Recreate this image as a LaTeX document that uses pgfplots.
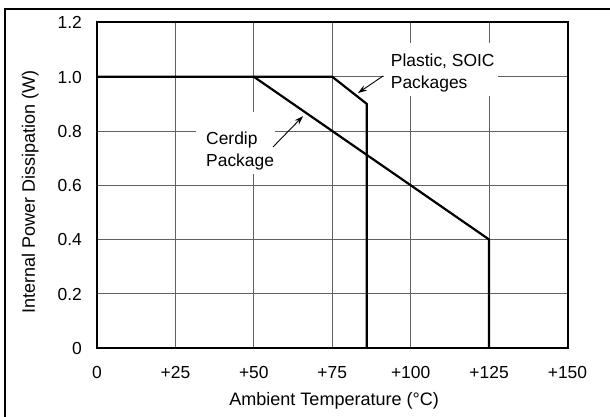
\documentclass[border=0pt]{standalone}
\usepackage{fontspec}
\setmainfont{Liberation Sans}
\usepackage{pgfplots}
\pgfplotsset{compat=1.18}
\usetikzlibrary{arrows.meta}
\begin{document}
\fontsize{17.5}{21}\selectfont
\begin{tikzpicture}
\path[use as bounding box] (-97bp,-69bp) rectangle (513bp,348bp);
\begin{axis}[
  at={(0,0)}, anchor=south west,
  scale only axis, width=470.5bp, height=325.5bp,
  xmin=0, xmax=150, ymin=0, ymax=1.2,
  xtick={0,25,50,75,100,125,150},
  xticklabels={0,+25,+50,+75,+100,+125,+150},
  ytick={0,0.2,0.4,0.6,0.8,1.0,1.2},
  yticklabels={0,0.2,0.4,0.6,0.8,1.0,1.2},
  major tick length=0pt,
  tick style={draw=none},
  grid=major,
  major grid style={draw=black!62, line width=0.9bp},
  axis line style={line width=2bp, black},
  xticklabel style={anchor=base, inner sep=0pt, yshift=-30.5bp},
  yticklabel style={anchor=base east, inner sep=0pt, xshift=-15bp, yshift=-6.3bp},
  xlabel={Ambient Temperature (°C)},
  xlabel style={at={(axis description cs:0.504,0)}, anchor=base, inner sep=0pt, yshift=-57bp, font=\fontsize{18.1}{21}\selectfont},
  ylabel={Internal Power Dissipation (W)},
  ylabel style={at={(axis description cs:-0.1318,0.479)}, anchor=base, inner sep=0pt, font=\fontsize{18.1}{21}\selectfont},
  clip=false,
]
% white boxes behind the annotation texts
\fill[white] (axis cs:31.56,0.6415) rectangle (axis cs:56.75,0.870);
\fill[white] (axis cs:91.5,0.929) rectangle (axis cs:127.84,1.1244);
% Cerdip package
\addplot[black, line width=2.2bp, line join=miter] coordinates {
  (0,1.0) (50,1.0) (125,0.4) (125,0)
};
% Plastic, SOIC packages
\addplot[black, line width=2.2bp, line join=miter] coordinates {
  (50,1.0) (75,1.0) (86,0.9) (86,0)
};
\node[anchor=base west, inner sep=0pt] at (axis cs:34.75,0.7484) {Cerdip};
\node[anchor=base west, inner sep=0pt] at (axis cs:34.75,0.6684) {Package};
\node[anchor=base west, inner sep=0pt] at (axis cs:93.63,1.036) {Plastic, SOIC};
\node[anchor=base west, inner sep=0pt] at (axis cs:93.63,0.9574) {Packages};
\draw[line width=0.9bp, -{Stealth[length=9bp,width=6bp]}] (axis cs:56.1,0.741) -- (axis cs:65.7,0.855);
\draw[line width=0.9bp, -{Stealth[length=9bp,width=6bp]}] (axis cs:91.2,1.0028) -- (axis cs:83.2,0.940);
\end{axis}
\draw[line width=2bp] (-91.5bp,-80bp) -- (-91.5bp,338.5bp) -- (530bp,338.5bp);
\end{tikzpicture}
\end{document}
